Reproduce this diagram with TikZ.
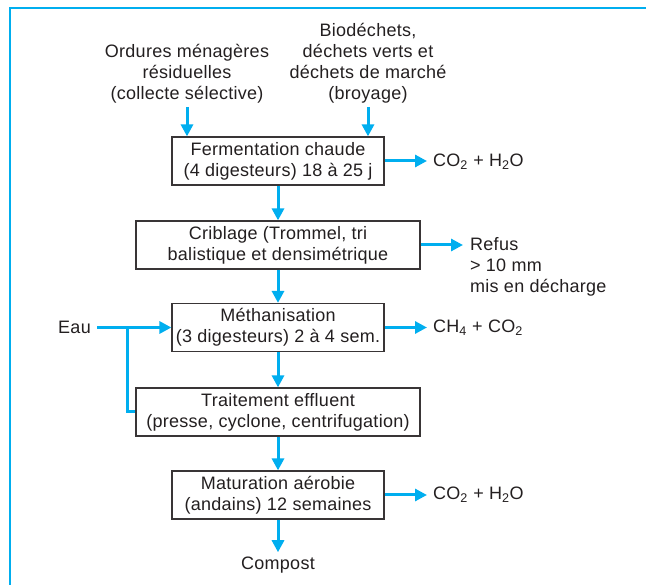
\documentclass[tikz,border=0pt]{standalone}
\usepackage{fontspec}
\setmainfont{Liberation Sans}[LetterSpace=1.5]
\usetikzlibrary{arrows.meta}
\definecolor{flow}{RGB}{0,174,239}
\definecolor{ink}{RGB}{35,31,32}
\begin{document}
\begin{tikzpicture}[x=1pt, y=-1pt,
  font=\fontsize{18}{21}\selectfont, text=ink,
  stage/.style={draw=ink!90, line width=1.2pt, align=center, inner sep=0pt, fill=white},
  wide/.style={stage, minimum width=284pt, minimum height=48pt},
  narrow/.style={stage, minimum width=212pt, minimum height=48pt},
  flowline/.style={draw=flow, line width=3pt},
  flowarrow/.style={flowline, -{Triangle[length=12pt,width=12pt]}},
  txt/.style={inner sep=0pt},
  frameline/.style={draw=flow, line width=2pt}]
\useasboundingbox (0,0) rectangle (646,585);

% frame
\draw[frameline] (646,8) -- (10,8) -- (10,585);

% process stages
\node[narrow] (ferm)  at (278,161)   {Fermentation chaude\\(4 digesteurs) 18 à 25 j};
\node[wide]   (crib)  at (278,245)   {Criblage (Trommel, tri\\balistique et densimétrique};
\node[narrow] (meth)  at (278,327.5) {Méthanisation\\(3 digesteurs) 2 à 4 sem.};
\node[wide]   (trait) at (278,412)   {Traitement effluent\\(presse, cyclone, centrifugation)};
\node[narrow] (matu)  at (278,495)   {Maturation aérobie\\(andains) 12 semaines};

% inputs
\node[txt, align=center, anchor=south] (omr) at (187,103)
  {Ordures ménagères\\résiduelles\\(collecte sélective)};
\node[txt, align=center, anchor=south] (bio) at (368,103)
  {Biodéchets,\\déchets verts et\\déchets de marché\\(broyage)};
\node[txt, anchor=east] (eau) at (91,327) {Eau};

% outputs
\node[txt, anchor=west] (out1) at (433,162) {CO\textsubscript{2} + H\textsubscript{2}O};
\node[txt, anchor=north west, align=left] (refus) at (470,237)
  {Refus\\> 10 mm\\mis en décharge};
\node[txt, anchor=west] (out3) at (433,328) {CH\textsubscript{4} + CO\textsubscript{2}};
\node[txt, anchor=west] (out5) at (433,495) {CO\textsubscript{2} + H\textsubscript{2}O};
\node[txt, anchor=base] (compost) at (278,569) {Compost};

% main flow
\draw[flowarrow, shorten <=4pt] (omr.south) -- (omr.south |- ferm.north);
\draw[flowarrow, shorten <=4pt] (bio.south) -- (bio.south |- ferm.north);
\draw[flowarrow] (ferm) -- (crib);
\draw[flowarrow] (crib) -- (meth);
\draw[flowarrow] (meth) -- (trait);
\draw[flowarrow] (trait) -- (matu);
\draw[flowarrow, shorten >=4pt] (matu.south) -- (compost.north);

% side outputs
\draw[flowarrow, shorten >=6pt] (ferm.east) -- (ferm.east -| out1.west);
\draw[flowarrow, shorten >=7pt] (crib.east) -- (crib.east -| refus.west);
\draw[flowarrow, shorten >=6pt] (meth.east) -- (meth.east -| out3.west);
\draw[flowarrow, shorten >=6pt] (matu.east) -- (matu.east -| out5.west);

% water supply and branch to effluent treatment
\coordinate (split) at (127,327.5);
\draw[flowarrow, shorten <=6pt] (eau.east |- meth.west) -- (meth.west);
\draw[flowline] (split) |- (trait.west);
\end{tikzpicture}
\end{document}
